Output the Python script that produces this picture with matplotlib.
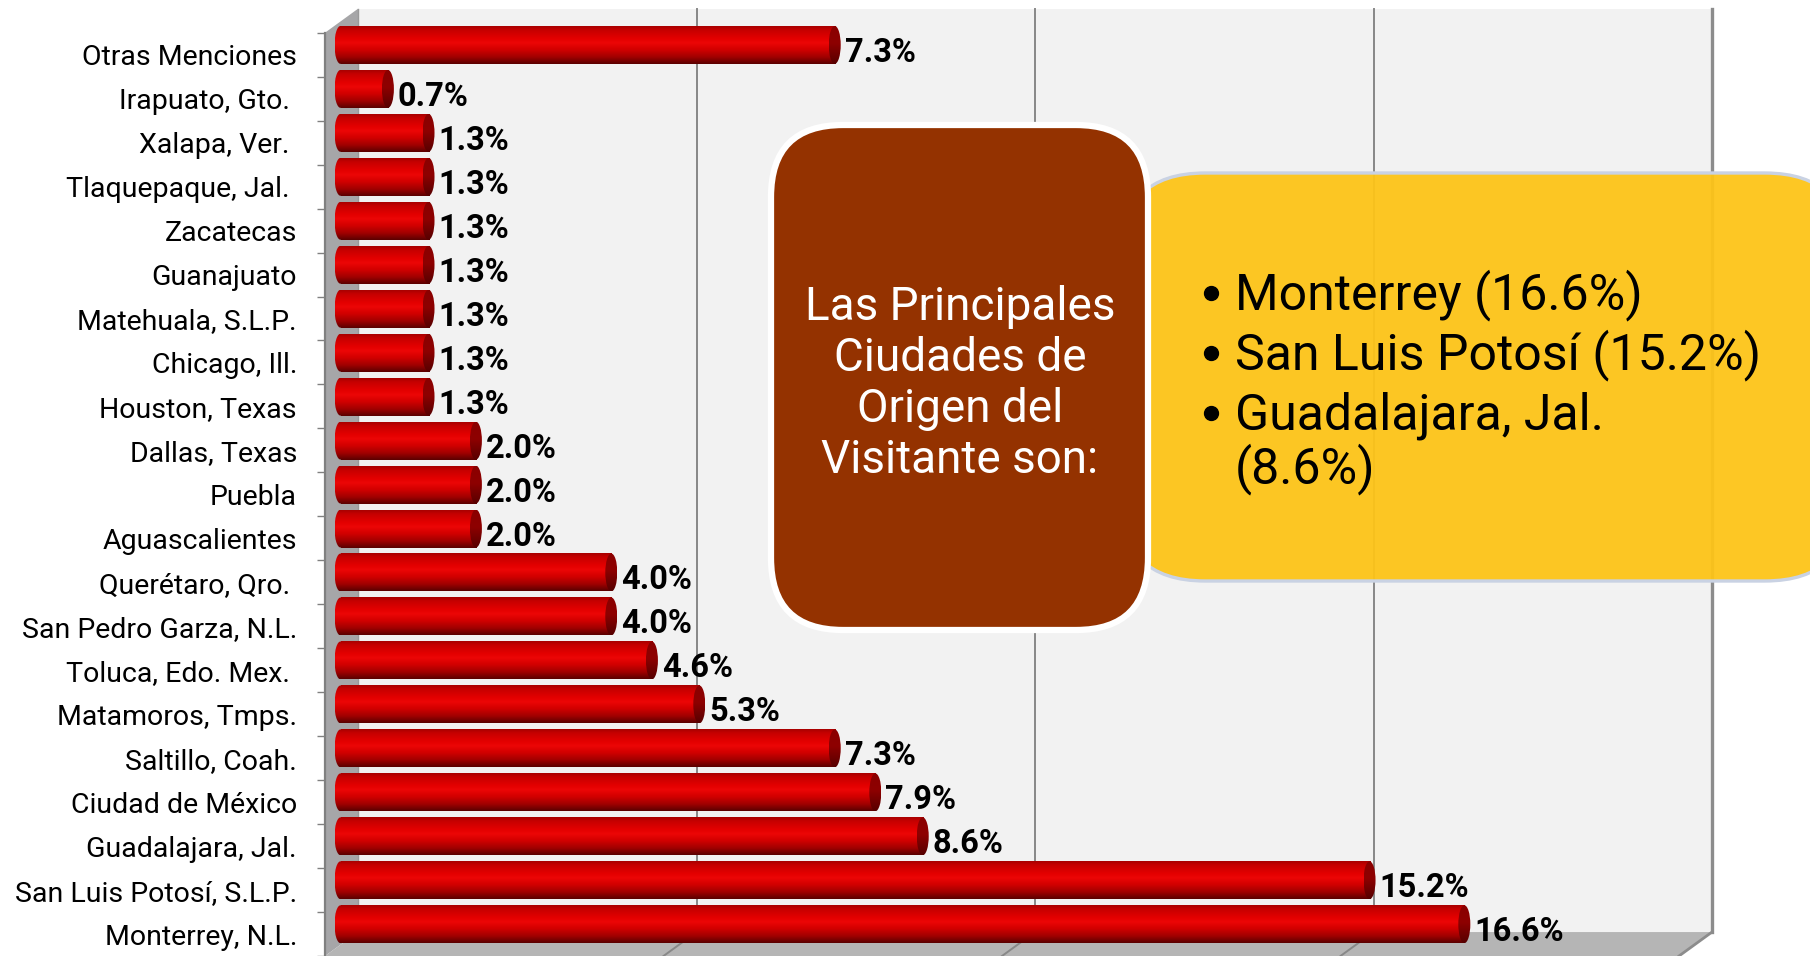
import numpy as np
import matplotlib
matplotlib.use('Agg')
import matplotlib.pyplot as plt
from matplotlib.colors import LinearSegmentedColormap
from matplotlib.patches import Ellipse, Polygon, FancyBboxPatch

plt.rcParams['font.family'] = ['Roboto', 'DejaVu Sans']

# ciudades de origen, de arriba hacia abajo
ciudades = ['Otras Menciones', 'Irapuato, Gto. ', 'Xalapa, Ver. ', 'Tlaquepaque, Jal. ',
            'Zacatecas', 'Guanajuato', 'Matehuala, S.L.P.', 'Chicago, Ill.',
            'Houston, Texas', 'Dallas, Texas', 'Puebla', 'Aguascalientes',
            'Querétaro, Qro. ', 'San Pedro Garza, N.L.', 'Toluca, Edo. Mex. ',
            'Matamoros, Tmps.', 'Saltillo, Coah.', 'Ciudad de México',
            'Guadalajara, Jal.', 'San Luis Potosí, S.L.P.', 'Monterrey, N.L.']
porcentajes = [7.3, 0.7, 1.3, 1.3, 1.3, 1.3, 1.3, 1.3, 1.3, 2.0, 2.0, 2.0,
               4.0, 4.0, 4.6, 5.3, 7.3, 7.9, 8.6, 15.2, 16.6]
grid_x = [5, 10, 15]
x_max = 20

titulo = ['Las Principales', 'Ciudades de', 'Origen del', 'Visitante son:']
principales = ['Monterrey (16.6%)', 'San Luis Potosí (15.2%)', 'Guadalajara, Jal.\n(8.6%)']

W, H = 1810, 956
fig = plt.figure(figsize=(W / 100, H / 100), dpi=100)

# geometria en pixeles de la caja 3D
X0 = 340.5    # pixel del 0 %
SX = 67.7     # pixeles por 1 %
Y0 = 45.0     # centro de la primera barra
SY = 44.05    # pixeles por categoria
LEFT = 325    # borde frontal de la pared izquierda

ax = fig.add_axes([LEFT / W, 0, 1 - LEFT / W, 1])

bx, by = 17.5 / SX, -14.2 / SY          # desplazamiento hacia la pared del fondo
fx, fy = (LEFT - X0) / SX, 9.8 / SY     # desplazamiento hacia el frente
n = len(ciudades)
top, bot = -0.5, n - 0.5

# paredes y piso
ax.add_patch(Polygon([(bx, top + by), (x_max + bx, top + by), (x_max + bx, bot + by), (bx, bot + by)],
                     closed=True, fc='#f2f2f2', ec='none', zorder=0))
ax.add_patch(Polygon([(bx, top + by), (bx, bot + by), (fx, bot + fy), (fx, top + fy)],
                     closed=True, fc='#a6a6a8', ec='none', zorder=1, clip_on=False))
ax.add_patch(Polygon([(bx, bot + by), (x_max + bx, bot + by), (x_max + fx, bot + fy), (fx, bot + fy)],
                     closed=True, fc='#b5b5b5', ec='none', zorder=1, clip_on=False))

for g in grid_x:
    ax.plot([g + bx, g + bx], [top + by, bot + by], color='#888888', lw=1.4, zorder=1)
    ax.plot([g + bx, g + fx], [bot + by, bot + fy], color='#888888', lw=1.4, zorder=1, clip_on=False)
ax.plot([x_max + bx, x_max + bx], [top + by, bot + by], color='#8c8c8c', lw=2.4, zorder=1)
ax.plot([x_max + bx, x_max + fx], [bot + by, bot + fy], color='#8c8c8c', lw=2.0, zorder=1, clip_on=False)
ax.plot([bx, bx], [top + by, bot + by], color='#9a9a9a', lw=1.0, zorder=1)
ax.plot([fx, fx], [top + fy, bot + fy], color='#808080', lw=1.6, zorder=2, clip_on=False)

# cilindros
cmap_barra = LinearSegmentedColormap.from_list('barra', [
    (0.00, '#a80000'), (0.10, '#c60000'), (0.32, '#e30000'), (0.44, '#ec0606'),
    (0.62, '#d20000'), (0.82, '#a00000'), (1.00, '#5a0000')])
cmap_tapa = LinearSegmentedColormap.from_list('tapa', [
    (0.00, '#8a0000'), (0.45, '#8e0000'), (1.00, '#560000')])
grad = np.linspace(0, 1, 128).reshape(-1, 1)

h = 38 / SY
ew = 12 / SX

for i, v in enumerate(porcentajes):
    ax.imshow(grad, cmap=cmap_barra, extent=(0, v, i + h / 2, i - h / 2),
              aspect='auto', interpolation='bilinear', origin='upper', zorder=3)
    izq = Ellipse((0, i), ew, h, fc='none', ec='none')
    ax.add_patch(izq)
    im = ax.imshow(grad, cmap=cmap_barra, extent=(-ew / 2, 0, i + h / 2, i - h / 2),
                   aspect='auto', interpolation='bilinear', origin='upper', zorder=3)
    im.set_clip_path(izq)
    der = Ellipse((v, i), ew, h, fc='none', ec='none')
    ax.add_patch(der)
    im = ax.imshow(grad, cmap=cmap_tapa, extent=(v - ew / 2, v + ew / 2, i + h / 2, i - h / 2),
                   aspect='auto', interpolation='bilinear', origin='upper', zorder=4)
    im.set_clip_path(der)
    ax.text(v + ew / 2 + 4 / SX, i + 17 / SY, f'{v:.1f}%', ha='left', va='baseline',
            fontsize=23.5, fontweight='bold', color='black', zorder=5)

ax.set_xlim((LEFT - X0) / SX, (W - X0) / SX)
ax.set_ylim((H - Y0) / SY, -Y0 / SY)
ax.set_xticks([])
ax.set_yticks(np.arange(n) + fy, labels=ciudades)
ax.set_yticks(np.arange(n + 1) - 0.5 + fy, minor=True)
ax.tick_params(axis='y', which='major', length=0, pad=20.2, labelsize=20.5, labelcolor='black')
ax.tick_params(axis='y', which='minor', length=5.8, width=1.0, color='#808080')
for s in ax.spines.values():
    s.set_visible(False)
ax.patch.set_visible(False)

# recuadros de resumen
ov = fig.add_axes([0, 0, 1, 1], zorder=5)
ov.set_xlim(0, W)
ov.set_ylim(H, 0)
ov.axis('off')

ov.add_patch(FancyBboxPatch((1120, 173), 730, 408, boxstyle='round,pad=0,rounding_size=85',
                            fc=(253 / 255, 196 / 255, 24 / 255, 0.95), ec='#c9d2e3', lw=2.4))
ov.add_patch(FancyBboxPatch((771, 125), 377, 505, boxstyle='round,pad=0,rounding_size=72',
                            fc='#943200', ec='white', lw=4.5))

for k, linea in enumerate(titulo):
    ov.text(960, 320 + 51 * k, linea, ha='center', va='baseline', color='white', fontsize=33)

y = 309
for item in principales:
    partes = item.split('\n')
    ov.plot([1211], [y - 16], 'o', ms=10, color='black')
    for p in partes:
        ov.text(1235, y, p, ha='left', va='baseline', color='black', fontsize=36)
        y += 54
    y += 6

fig.savefig('out.png', dpi=100)
